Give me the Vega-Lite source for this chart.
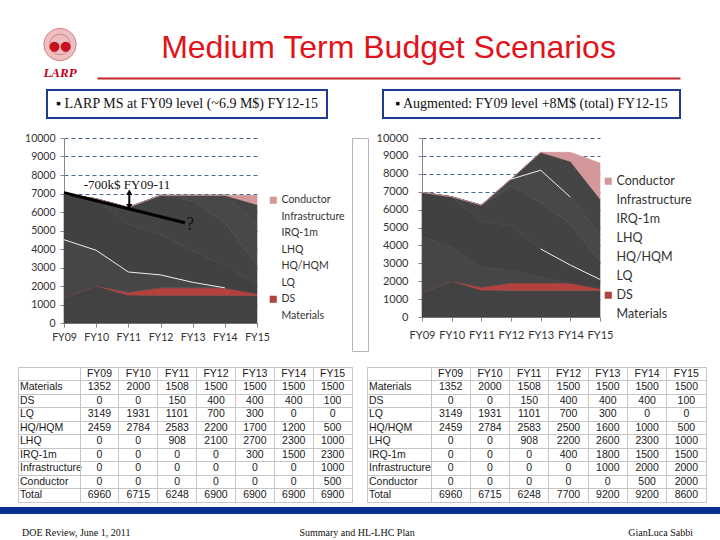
{
  "$schema": "https://vega.github.io/schema/vega-lite/v6.json",
  "background": "white",
  "padding": 0,
  "spacing": 0,
  "resolve": {"scale": {"color": "independent", "shape": "independent", "stroke": "independent"}, "legend": {"color": "independent", "shape": "independent", "stroke": "independent"}},
  "config": {
    "view": {"stroke": null},
    "font": "Liberation Sans",
    "axis": {"labelFont": "Lato", "titleFont": "Lato"},
    "legend": {"labelFont": "Lato"}
  },
  "datasets": {
    "order": [
      {"row": "Materials", "o": 1}, {"row": "DS", "o": 2}, {"row": "LQ", "o": 3}, {"row": "HQ/HQM", "o": 4},
      {"row": "LHQ", "o": 5}, {"row": "IRQ-1m", "o": 6}, {"row": "Infrastructure", "o": 7}, {"row": "Conductor", "o": 8}
    ],
    "ms": [
      {"row": "Materials", "fy": "FY09", "yr": 2009, "v": 1352}, {"row": "Materials", "fy": "FY10", "yr": 2010, "v": 2000}, {"row": "Materials", "fy": "FY11", "yr": 2011, "v": 1508}, {"row": "Materials", "fy": "FY12", "yr": 2012, "v": 1500}, {"row": "Materials", "fy": "FY13", "yr": 2013, "v": 1500}, {"row": "Materials", "fy": "FY14", "yr": 2014, "v": 1500}, {"row": "Materials", "fy": "FY15", "yr": 2015, "v": 1500},
      {"row": "DS", "fy": "FY09", "yr": 2009, "v": 0}, {"row": "DS", "fy": "FY10", "yr": 2010, "v": 0}, {"row": "DS", "fy": "FY11", "yr": 2011, "v": 150}, {"row": "DS", "fy": "FY12", "yr": 2012, "v": 400}, {"row": "DS", "fy": "FY13", "yr": 2013, "v": 400}, {"row": "DS", "fy": "FY14", "yr": 2014, "v": 400}, {"row": "DS", "fy": "FY15", "yr": 2015, "v": 100},
      {"row": "LQ", "fy": "FY09", "yr": 2009, "v": 3149}, {"row": "LQ", "fy": "FY10", "yr": 2010, "v": 1931}, {"row": "LQ", "fy": "FY11", "yr": 2011, "v": 1101}, {"row": "LQ", "fy": "FY12", "yr": 2012, "v": 700}, {"row": "LQ", "fy": "FY13", "yr": 2013, "v": 300}, {"row": "LQ", "fy": "FY14", "yr": 2014, "v": 0}, {"row": "LQ", "fy": "FY15", "yr": 2015, "v": 0},
      {"row": "HQ/HQM", "fy": "FY09", "yr": 2009, "v": 2459}, {"row": "HQ/HQM", "fy": "FY10", "yr": 2010, "v": 2784}, {"row": "HQ/HQM", "fy": "FY11", "yr": 2011, "v": 2583}, {"row": "HQ/HQM", "fy": "FY12", "yr": 2012, "v": 2200}, {"row": "HQ/HQM", "fy": "FY13", "yr": 2013, "v": 1700}, {"row": "HQ/HQM", "fy": "FY14", "yr": 2014, "v": 1200}, {"row": "HQ/HQM", "fy": "FY15", "yr": 2015, "v": 500},
      {"row": "LHQ", "fy": "FY09", "yr": 2009, "v": 0}, {"row": "LHQ", "fy": "FY10", "yr": 2010, "v": 0}, {"row": "LHQ", "fy": "FY11", "yr": 2011, "v": 908}, {"row": "LHQ", "fy": "FY12", "yr": 2012, "v": 2100}, {"row": "LHQ", "fy": "FY13", "yr": 2013, "v": 2700}, {"row": "LHQ", "fy": "FY14", "yr": 2014, "v": 2300}, {"row": "LHQ", "fy": "FY15", "yr": 2015, "v": 1000},
      {"row": "IRQ-1m", "fy": "FY09", "yr": 2009, "v": 0}, {"row": "IRQ-1m", "fy": "FY10", "yr": 2010, "v": 0}, {"row": "IRQ-1m", "fy": "FY11", "yr": 2011, "v": 0}, {"row": "IRQ-1m", "fy": "FY12", "yr": 2012, "v": 0}, {"row": "IRQ-1m", "fy": "FY13", "yr": 2013, "v": 300}, {"row": "IRQ-1m", "fy": "FY14", "yr": 2014, "v": 1500}, {"row": "IRQ-1m", "fy": "FY15", "yr": 2015, "v": 2300},
      {"row": "Infrastructure", "fy": "FY09", "yr": 2009, "v": 0}, {"row": "Infrastructure", "fy": "FY10", "yr": 2010, "v": 0}, {"row": "Infrastructure", "fy": "FY11", "yr": 2011, "v": 0}, {"row": "Infrastructure", "fy": "FY12", "yr": 2012, "v": 0}, {"row": "Infrastructure", "fy": "FY13", "yr": 2013, "v": 0}, {"row": "Infrastructure", "fy": "FY14", "yr": 2014, "v": 0}, {"row": "Infrastructure", "fy": "FY15", "yr": 2015, "v": 1000},
      {"row": "Conductor", "fy": "FY09", "yr": 2009, "v": 0}, {"row": "Conductor", "fy": "FY10", "yr": 2010, "v": 0}, {"row": "Conductor", "fy": "FY11", "yr": 2011, "v": 0}, {"row": "Conductor", "fy": "FY12", "yr": 2012, "v": 0}, {"row": "Conductor", "fy": "FY13", "yr": 2013, "v": 0}, {"row": "Conductor", "fy": "FY14", "yr": 2014, "v": 0}, {"row": "Conductor", "fy": "FY15", "yr": 2015, "v": 500},
      {"row": "Total", "fy": "FY09", "yr": 2009, "v": 6960}, {"row": "Total", "fy": "FY10", "yr": 2010, "v": 6715}, {"row": "Total", "fy": "FY11", "yr": 2011, "v": 6248}, {"row": "Total", "fy": "FY12", "yr": 2012, "v": 6900}, {"row": "Total", "fy": "FY13", "yr": 2013, "v": 6900}, {"row": "Total", "fy": "FY14", "yr": 2014, "v": 6900}, {"row": "Total", "fy": "FY15", "yr": 2015, "v": 6900}
    ],
    "aug": [
      {"row": "Materials", "fy": "FY09", "yr": 2009, "v": 1352}, {"row": "Materials", "fy": "FY10", "yr": 2010, "v": 2000}, {"row": "Materials", "fy": "FY11", "yr": 2011, "v": 1508}, {"row": "Materials", "fy": "FY12", "yr": 2012, "v": 1500}, {"row": "Materials", "fy": "FY13", "yr": 2013, "v": 1500}, {"row": "Materials", "fy": "FY14", "yr": 2014, "v": 1500}, {"row": "Materials", "fy": "FY15", "yr": 2015, "v": 1500},
      {"row": "DS", "fy": "FY09", "yr": 2009, "v": 0}, {"row": "DS", "fy": "FY10", "yr": 2010, "v": 0}, {"row": "DS", "fy": "FY11", "yr": 2011, "v": 150}, {"row": "DS", "fy": "FY12", "yr": 2012, "v": 400}, {"row": "DS", "fy": "FY13", "yr": 2013, "v": 400}, {"row": "DS", "fy": "FY14", "yr": 2014, "v": 400}, {"row": "DS", "fy": "FY15", "yr": 2015, "v": 100},
      {"row": "LQ", "fy": "FY09", "yr": 2009, "v": 3149}, {"row": "LQ", "fy": "FY10", "yr": 2010, "v": 1931}, {"row": "LQ", "fy": "FY11", "yr": 2011, "v": 1101}, {"row": "LQ", "fy": "FY12", "yr": 2012, "v": 700}, {"row": "LQ", "fy": "FY13", "yr": 2013, "v": 300}, {"row": "LQ", "fy": "FY14", "yr": 2014, "v": 0}, {"row": "LQ", "fy": "FY15", "yr": 2015, "v": 0},
      {"row": "HQ/HQM", "fy": "FY09", "yr": 2009, "v": 2459}, {"row": "HQ/HQM", "fy": "FY10", "yr": 2010, "v": 2784}, {"row": "HQ/HQM", "fy": "FY11", "yr": 2011, "v": 2583}, {"row": "HQ/HQM", "fy": "FY12", "yr": 2012, "v": 2500}, {"row": "HQ/HQM", "fy": "FY13", "yr": 2013, "v": 1600}, {"row": "HQ/HQM", "fy": "FY14", "yr": 2014, "v": 1000}, {"row": "HQ/HQM", "fy": "FY15", "yr": 2015, "v": 500},
      {"row": "LHQ", "fy": "FY09", "yr": 2009, "v": 0}, {"row": "LHQ", "fy": "FY10", "yr": 2010, "v": 0}, {"row": "LHQ", "fy": "FY11", "yr": 2011, "v": 908}, {"row": "LHQ", "fy": "FY12", "yr": 2012, "v": 2200}, {"row": "LHQ", "fy": "FY13", "yr": 2013, "v": 2600}, {"row": "LHQ", "fy": "FY14", "yr": 2014, "v": 2300}, {"row": "LHQ", "fy": "FY15", "yr": 2015, "v": 1000},
      {"row": "IRQ-1m", "fy": "FY09", "yr": 2009, "v": 0}, {"row": "IRQ-1m", "fy": "FY10", "yr": 2010, "v": 0}, {"row": "IRQ-1m", "fy": "FY11", "yr": 2011, "v": 0}, {"row": "IRQ-1m", "fy": "FY12", "yr": 2012, "v": 400}, {"row": "IRQ-1m", "fy": "FY13", "yr": 2013, "v": 1800}, {"row": "IRQ-1m", "fy": "FY14", "yr": 2014, "v": 1500}, {"row": "IRQ-1m", "fy": "FY15", "yr": 2015, "v": 1500},
      {"row": "Infrastructure", "fy": "FY09", "yr": 2009, "v": 0}, {"row": "Infrastructure", "fy": "FY10", "yr": 2010, "v": 0}, {"row": "Infrastructure", "fy": "FY11", "yr": 2011, "v": 0}, {"row": "Infrastructure", "fy": "FY12", "yr": 2012, "v": 0}, {"row": "Infrastructure", "fy": "FY13", "yr": 2013, "v": 1000}, {"row": "Infrastructure", "fy": "FY14", "yr": 2014, "v": 2000}, {"row": "Infrastructure", "fy": "FY15", "yr": 2015, "v": 2000},
      {"row": "Conductor", "fy": "FY09", "yr": 2009, "v": 0}, {"row": "Conductor", "fy": "FY10", "yr": 2010, "v": 0}, {"row": "Conductor", "fy": "FY11", "yr": 2011, "v": 0}, {"row": "Conductor", "fy": "FY12", "yr": 2012, "v": 0}, {"row": "Conductor", "fy": "FY13", "yr": 2013, "v": 0}, {"row": "Conductor", "fy": "FY14", "yr": 2014, "v": 500}, {"row": "Conductor", "fy": "FY15", "yr": 2015, "v": 2000},
      {"row": "Total", "fy": "FY09", "yr": 2009, "v": 6960}, {"row": "Total", "fy": "FY10", "yr": 2010, "v": 6715}, {"row": "Total", "fy": "FY11", "yr": 2011, "v": 6248}, {"row": "Total", "fy": "FY12", "yr": 2012, "v": 7700}, {"row": "Total", "fy": "FY13", "yr": 2013, "v": 9200}, {"row": "Total", "fy": "FY14", "yr": 2014, "v": 9200}, {"row": "Total", "fy": "FY15", "yr": 2015, "v": 8600}
    ]
  },
  "vconcat": [
    {
      "hconcat": [
        {"width": 23, "height": 89, "data": {"values": []}, "mark": "point"},
        {
          "width": 74, "height": 89,
          "data": {"values": [{"name": "LARP"}]},
          "layer": [
            {"mark": {"type": "point", "shape": "circle", "filled": true, "size": 1050, "color": "#eab8ba", "opacity": 0.9}},
            {"mark": {"type": "point", "shape": "circle", "filled": false, "size": 1050, "color": "#c84a55", "strokeWidth": 1, "opacity": 0.6}},
            {"mark": {"type": "point", "shape": "circle", "filled": false, "size": 420, "color": "#c84a55", "strokeWidth": 1, "opacity": 0.5}},
            {"mark": {"type": "text", "text": "●●", "fontSize": 13, "color": "#c8101e", "font": "DejaVu Sans", "dy": 1}},
            {"mark": {"type": "text", "font": "Liberation Serif", "fontSize": 13, "fontStyle": "italic", "fontWeight": "bold", "color": "#c00018", "dy": 28}, "encoding": {"text": {"field": "name"}}}
          ]
        },
        {
          "width": 583, "height": 78,
          "data": {"values": [{"t": "Medium Term Budget Scenarios"}]},
          "mark": {"type": "text", "fontSize": 32, "font": "Liberation Sans", "color": "#e2121b", "baseline": "middle", "dy": 9},
          "encoding": {
            "x": {"field": "t", "type": "nominal", "scale": {"type": "point"}, "axis": {"orient": "bottom", "title": null, "labels": false, "ticks": false, "grid": false, "domainColor": "#c0282d", "domainWidth": 2}},
            "text": {"field": "t"}
          }
        }
      ],
      "spacing": 0,
      "bounds": "flush"
    },
    {
      "hconcat": [
        {"width": 47, "height": 41.5, "data": {"values": []}, "mark": "point"},
        {
          "width": 280, "height": 28,
          "view": {"stroke": "#1c3d8f", "strokeWidth": 2, "fill": "white"},
          "data": {"values": [{"t": "▪ LARP MS at FY09 level (~6.9 M$) FY12-15"}]},
          "mark": {"type": "text", "font": "Liberation Serif", "fontSize": 14, "color": "#111111"},
          "encoding": {"text": {"field": "t"}}
        },
        {"width": 56, "height": 1, "data": {"values": []}, "mark": "point"},
        {
          "width": 297, "height": 28,
          "view": {"stroke": "#1c3d8f", "strokeWidth": 2, "fill": "white"},
          "data": {"values": [{"t": "▪ Augmented: FY09 level +8M$ (total) FY12-15"}]},
          "mark": {"type": "text", "font": "Liberation Serif", "fontSize": 14, "color": "#111111"},
          "encoding": {"text": {"field": "t"}}
        }
      ],
      "spacing": 0,
      "bounds": "flush"
    },
    {
      "resolve": {"scale": {"color": "independent", "shape": "independent", "stroke": "independent"}, "legend": {"color": "independent", "shape": "independent", "stroke": "independent"}},
      "hconcat": [
        {"width": 64, "height": 227.5, "data": {"values": []}, "mark": "point"},
        {
          "width": 193, "height": 185,
          "encoding": {
            "x": {"field": "yr", "type": "quantitative", "scale": {"domain": [2009, 2015], "nice": false, "zero": false},
              "axis": {"title": null, "values": [2009, 2010, 2011, 2012, 2013, 2014, 2015], "labelExpr": "'FY' + slice(toString(datum.value), 2)", "labelFontSize": 10.5, "labelColor": "#333333", "tickSize": 4, "tickColor": "#888888", "domainColor": "#888888", "grid": false, "labelPadding": 5, "labelFlush": false, "labelOverlap": false}},
            "y": {"field": "v1", "type": "quantitative", "scale": {"domain": [0, 10000], "nice": false},
              "axis": {"title": null, "values": [0, 1000, 2000, 3000, 4000, 5000, 6000, 7000, 8000, 9000, 10000], "format": "d", "labelFontSize": 10.5, "labelColor": "#333333", "tickSize": 4, "tickColor": "#888888", "domainColor": "#888888", "grid": true, "gridColor": "#4a6790", "gridDash": [4, 3], "labelPadding": 5, "labelOverlap": false}}
          },
          "layer": [
            {
              "data": {"name": "ms"},
              "transform": [
                {"filter": "datum.row != 'Total'"},
                {"lookup": "row", "from": {"data": {"name": "order"}, "key": "row", "fields": ["o"]}},
                {"stack": "v", "groupby": ["yr"], "sort": [{"field": "o", "order": "ascending"}], "as": ["v0", "v1"]}
              ],
              "mark": {"type": "area", "interpolate": "linear", "strokeWidth": 0.6},
              "encoding": {
                "y2": {"field": "v0"},
                "color": {"field": "row", "type": "nominal",
                  "scale": {"domain": ["Conductor", "Infrastructure", "IRQ-1m", "LHQ", "HQ/HQM", "LQ", "DS", "Materials"], "range": ["#d4979a", "#454545", "#484848", "#434343", "#414141", "#464646", "#b3423e", "#424242"]},
                  "legend": {"title": null, "orient": "none", "legendX": 204, "legendY": 57, "symbolType": "square", "symbolSize": 50, "labelFontSize": 10.5, "labelColor": "#333333", "rowPadding": 5.5, "labelOffset": 3, "symbolStrokeWidth": 0,
                    "encode": {"symbols": {"update": {"opacity": {"signal": "datum.value == 'Conductor' || datum.value == 'DS' ? 1 : 0"}}}}}},
                "stroke": {"field": "row", "type": "nominal",
                  "scale": {"domain": ["Conductor", "Infrastructure", "IRQ-1m", "LHQ", "HQ/HQM", "LQ", "DS", "Materials"], "range": ["#d4979a", "#454545", "#484848", "#434343", "#414141", "#464646", "#b3423e", "#424242"]},
                  "legend": null}
              }
            },
            {
              "data": {"name": "ms"},
              "transform": [
                {"filter": "datum.row != 'Total'"},
                {"lookup": "row", "from": {"data": {"name": "order"}, "key": "row", "fields": ["o"]}},
                {"stack": "v", "groupby": ["yr"], "sort": [{"field": "o", "order": "ascending"}], "as": ["v0", "v1"]},
                {"filter": "datum.row == 'LQ' && datum.yr <= 2014"}
              ],
              "mark": {"type": "line", "color": "white", "strokeWidth": 1, "opacity": 0.9},
              "encoding": {}
            },
            {
              "data": {"values": [{"yr": 2009, "v1": 7043}, {"yr": 2012.76, "v1": 5422}]},
              "mark": {"type": "line", "color": "black", "strokeWidth": 3},
              "encoding": {}
            },
            {
              "data": {"values": [{"yr": 2011.03, "v1": 6300, "v2": 7060}]},
              "mark": {"type": "rule", "color": "black", "strokeWidth": 2},
              "encoding": {"y2": {"field": "v2"}}
            },
            {
              "data": {"values": [{"yr": 2011.03, "v1": 7070, "d": "up"}, {"yr": 2011.03, "v1": 6290, "d": "down"}]},
              "mark": {"type": "point", "filled": true, "color": "black", "size": 40, "opacity": 1},
              "encoding": {"shape": {"field": "d", "type": "nominal", "scale": {"domain": ["up", "down"], "range": ["triangle-up", "triangle-down"]}, "legend": null}}
            },
            {
              "data": {"values": [{"yr": 2010.96, "v1": 7460, "t": "-700k$ FY09-11"}]},
              "mark": {"type": "text", "font": "Liberation Serif", "fontSize": 13, "color": "#111111"},
              "encoding": {"text": {"field": "t"}}
            },
            {
              "data": {"values": [{"yr": 2012.92, "v1": 5300, "t": "?"}]},
              "mark": {"type": "text", "font": "Liberation Serif", "fontSize": 18, "color": "#111111"},
              "encoding": {"text": {"field": "t"}}
            }
          ]
        },
        {"width": 95, "height": 1, "data": {"values": []}, "mark": "point"},
        {"width": 16, "height": 213, "view": {"stroke": "#b4b4b4", "strokeWidth": 1}, "data": {"values": []}, "mark": "point"},
        {"width": 54, "height": 1, "data": {"values": []}, "mark": "point"},
        {
          "width": 178, "height": 179,
          "encoding": {
            "x": {"field": "yr", "type": "quantitative", "scale": {"domain": [2009, 2015], "nice": false, "zero": false},
              "axis": {"title": null, "values": [2009, 2010, 2011, 2012, 2013, 2014, 2015], "labelExpr": "'FY' + slice(toString(datum.value), 2)", "labelFontSize": 11, "labelColor": "#333333", "tickSize": 4, "tickColor": "#888888", "domainColor": "#888888", "grid": false, "labelPadding": 8, "labelFlush": false, "labelOverlap": false}},
            "y": {"field": "v1", "type": "quantitative", "scale": {"domain": [0, 10000], "nice": false},
              "axis": {"title": null, "values": [0, 1000, 2000, 3000, 4000, 5000, 6000, 7000, 8000, 9000, 10000], "format": "d", "labelFontSize": 11, "labelColor": "#333333", "tickSize": 4, "tickColor": "#888888", "domainColor": "#888888", "grid": true, "gridColor": "#4a6790", "gridDash": [4, 3], "labelPadding": 10, "labelOverlap": false}}
          },
          "layer": [
            {
              "data": {"name": "aug"},
              "transform": [
                {"filter": "datum.row != 'Total'"},
                {"lookup": "row", "from": {"data": {"name": "order"}, "key": "row", "fields": ["o"]}},
                {"stack": "v", "groupby": ["yr"], "sort": [{"field": "o", "order": "ascending"}], "as": ["v0", "v1"]}
              ],
              "mark": {"type": "area", "interpolate": "linear", "strokeWidth": 0.6},
              "encoding": {
                "y2": {"field": "v0"},
                "color": {"field": "row", "type": "nominal",
                  "scale": {"domain": ["Conductor", "Infrastructure", "IRQ-1m", "LHQ", "HQ/HQM", "LQ", "DS", "Materials"], "range": ["#d4979a", "#454545", "#484848", "#434343", "#414141", "#464646", "#b3423e", "#424242"]},
                  "legend": {"title": null, "orient": "none", "legendX": 180, "legendY": 37, "symbolType": "square", "symbolSize": 50, "labelFontSize": 12.5, "labelColor": "#333333", "rowPadding": 6, "labelOffset": 2, "symbolStrokeWidth": 0,
                    "encode": {"symbols": {"update": {"opacity": {"signal": "datum.value == 'Conductor' || datum.value == 'DS' ? 1 : 0"}}}}}},
                "stroke": {"field": "row", "type": "nominal",
                  "scale": {"domain": ["Conductor", "Infrastructure", "IRQ-1m", "LHQ", "HQ/HQM", "LQ", "DS", "Materials"], "range": ["#d4979a", "#454545", "#484848", "#434343", "#414141", "#464646", "#b3423e", "#424242"]},
                  "legend": null}
              }
            },
            {
              "data": {"name": "aug"},
              "transform": [
                {"filter": "datum.row != 'Total'"},
                {"lookup": "row", "from": {"data": {"name": "order"}, "key": "row", "fields": ["o"]}},
                {"stack": "v", "groupby": ["yr"], "sort": [{"field": "o", "order": "ascending"}], "as": ["v0", "v1"]},
                {"filter": "(datum.row == 'HQ/HQM' && datum.yr >= 2013) || (datum.row == 'IRQ-1m' && datum.yr >= 2012 && datum.yr <= 2014)"}
              ],
              "mark": {"type": "line", "color": "white", "strokeWidth": 1, "opacity": 0.9},
              "encoding": {"detail": {"field": "row"}}
            }
          ]
        }
      ],
      "spacing": 0,
      "bounds": "flush"
    },
    {
      "hconcat": [
        {"width": 18, "height": 140, "data": {"values": []}, "mark": "point"},
        {
          "width": 62, "height": 135,
          "view": {"stroke": "#c6c6c6"},
          "data": {"name": "ms"},
          "transform": [{"filter": "datum.fy == 'FY09'"}],
          "mark": {"type": "text", "align": "left", "dx": -29, "fontSize": 10.5, "color": "#1a1a1a"},
          "encoding": {
            "y": {"field": "row", "type": "nominal", "scale": {"type": "band", "domain": ["hdr", "Materials", "DS", "LQ", "HQ/HQM", "LHQ", "IRQ-1m", "Infrastructure", "Conductor", "Total"], "paddingInner": 0, "paddingOuter": 0},
              "axis": {"title": null, "labels": false, "ticks": false, "domain": false, "grid": true, "gridColor": "#c6c6c6", "bandPosition": 0}},
            "text": {"field": "row"}
          }
        },
        {
          "width": 272, "height": 135,
          "view": {"stroke": "#c6c6c6"},
          "data": {"name": "ms"},
          "layer": [
            {
              "mark": {"type": "text", "fontSize": 10.5, "color": "#1a1a1a"},
              "encoding": {
                "x": {"field": "fy", "type": "ordinal", "scale": {"type": "band", "domain": ["FY09", "FY10", "FY11", "FY12", "FY13", "FY14", "FY15"], "paddingInner": 0, "paddingOuter": 0},
                  "axis": {"orient": "top", "title": null, "labels": false, "ticks": false, "domain": false, "grid": true, "gridColor": "#c6c6c6", "bandPosition": 0}},
                "y": {"field": "row", "type": "nominal", "scale": {"type": "band", "domain": ["hdr", "Materials", "DS", "LQ", "HQ/HQM", "LHQ", "IRQ-1m", "Infrastructure", "Conductor", "Total"], "paddingInner": 0, "paddingOuter": 0},
                  "axis": {"title": null, "labels": false, "ticks": false, "domain": false, "grid": true, "gridColor": "#c6c6c6", "bandPosition": 0}},
                "text": {"field": "v", "type": "quantitative", "format": "d"}
              }
            },
            {
              "transform": [{"filter": "datum.row == 'Materials'"}],
              "mark": {"type": "text", "fontSize": 10.5, "color": "#1a1a1a"},
              "encoding": {
                "x": {"field": "fy", "type": "ordinal"},
                "y": {"datum": "hdr", "type": "nominal"},
                "text": {"field": "fy"}
              }
            }
          ]
        },
        {"width": 15, "height": 1, "data": {"values": []}, "mark": "point"},
        {
          "width": 64, "height": 135,
          "view": {"stroke": "#c6c6c6"},
          "data": {"name": "aug"},
          "transform": [{"filter": "datum.fy == 'FY09'"}],
          "mark": {"type": "text", "align": "left", "dx": -30, "fontSize": 10.5, "color": "#1a1a1a"},
          "encoding": {
            "y": {"field": "row", "type": "nominal", "scale": {"type": "band", "domain": ["hdr", "Materials", "DS", "LQ", "HQ/HQM", "LHQ", "IRQ-1m", "Infrastructure", "Conductor", "Total"], "paddingInner": 0, "paddingOuter": 0},
              "axis": {"title": null, "labels": false, "ticks": false, "domain": false, "grid": true, "gridColor": "#c6c6c6", "bandPosition": 0}},
            "text": {"field": "row"}
          }
        },
        {
          "width": 275, "height": 135,
          "view": {"stroke": "#c6c6c6"},
          "data": {"name": "aug"},
          "layer": [
            {
              "mark": {"type": "text", "fontSize": 10.5, "color": "#1a1a1a"},
              "encoding": {
                "x": {"field": "fy", "type": "ordinal", "scale": {"type": "band", "domain": ["FY09", "FY10", "FY11", "FY12", "FY13", "FY14", "FY15"], "paddingInner": 0, "paddingOuter": 0},
                  "axis": {"orient": "top", "title": null, "labels": false, "ticks": false, "domain": false, "grid": true, "gridColor": "#c6c6c6", "bandPosition": 0}},
                "y": {"field": "row", "type": "nominal", "scale": {"type": "band", "domain": ["hdr", "Materials", "DS", "LQ", "HQ/HQM", "LHQ", "IRQ-1m", "Infrastructure", "Conductor", "Total"], "paddingInner": 0, "paddingOuter": 0},
                  "axis": {"title": null, "labels": false, "ticks": false, "domain": false, "grid": true, "gridColor": "#c6c6c6", "bandPosition": 0}},
                "text": {"field": "v", "type": "quantitative", "format": "d"}
              }
            },
            {
              "transform": [{"filter": "datum.row == 'Materials'"}],
              "mark": {"type": "text", "fontSize": 10.5, "color": "#1a1a1a"},
              "encoding": {
                "x": {"field": "fy", "type": "ordinal"},
                "y": {"datum": "hdr", "type": "nominal"},
                "text": {"field": "fy"}
              }
            }
          ]
        }
      ],
      "spacing": 0,
      "bounds": "flush"
    },
    {
      "width": 720, "height": 7,
      "view": {"fill": "#0b2f8e", "stroke": null},
      "data": {"values": [{"t": "DOE Review, June 1, 2011"}, {"t": "Summary and HL-LHC Plan"}, {"t": "GianLuca Sabbi"}]},
      "mark": {"type": "text", "font": "Liberation Serif", "fontSize": 10, "color": "#111111", "baseline": "middle", "dy": 22,
        "align": {"expr": "datum.t == 'DOE Review, June 1, 2011' ? 'left' : datum.t == 'GianLuca Sabbi' ? 'right' : 'center'"},
        "dx": {"expr": "datum.t == 'DOE Review, June 1, 2011' ? 22 : datum.t == 'GianLuca Sabbi' ? -27 : -3"}},
      "encoding": {
        "x": {"field": "t", "type": "nominal", "scale": {"type": "point", "padding": 0, "domain": ["DOE Review, June 1, 2011", "Summary and HL-LHC Plan", "GianLuca Sabbi"]}, "axis": null},
        "text": {"field": "t"}
      }
    }
  ]
}
